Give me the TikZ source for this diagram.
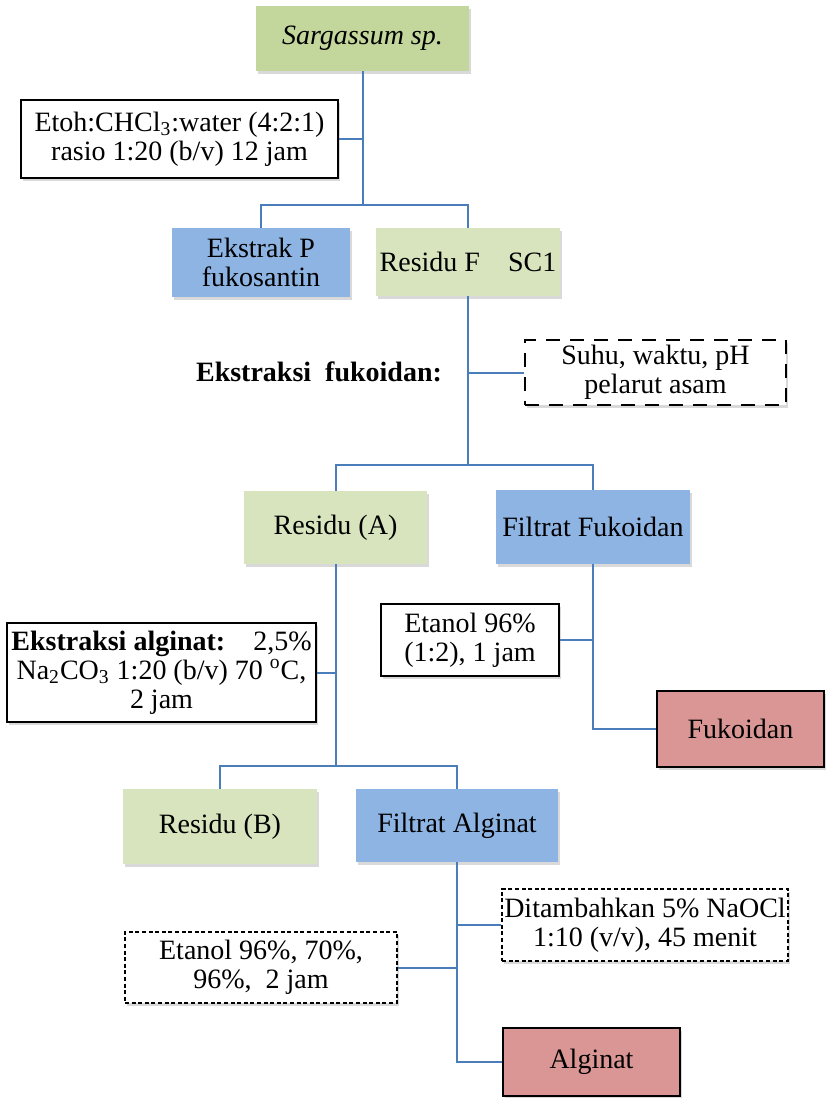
\documentclass[tikz,border=0pt]{standalone}
\usepackage{fontspec}
\setmainfont{Liberation Serif}
\usetikzlibrary{shadows}

\definecolor{leafgreen}{HTML}{C3D69B}
\definecolor{palegreen}{HTML}{D7E4BD}
\definecolor{skyblue}{HTML}{8EB4E3}
\definecolor{rosered}{HTML}{D99694}
\definecolor{linkblue}{HTML}{4A7EBB}

\begin{document}
\begin{tikzpicture}[x=0.5pt, y=-0.5pt,
    box/.style={align=center, inner sep=1pt, font=\fontsize{14}{14.5}\selectfont,
      drop shadow={shadow xshift=1.2pt, shadow yshift=-1.5pt, opacity=0.3}},
    greenbox/.style={box, fill=leafgreen},
    palebox/.style={box, fill=palegreen},
    bluebox/.style={box, fill=skyblue},
    redbox/.style={box, fill=rosered, draw=black, line width=0.9pt},
    notebox/.style={box, fill=white, draw=black, line width=0.9pt},
    thickdash/.style={box, fill=white, draw=black, line width=1.4pt, dash pattern=on 7pt off 5pt},
    thindash/.style={box, fill=white, draw=black, line width=0.6pt, dash pattern=on 2pt off 1.3pt},
    link/.style={draw=linkblue, line width=1pt}]

  \useasboundingbox (0,0) rectangle (827,1098);

  % Nodes
  \node[greenbox, minimum width=106.5pt, minimum height=32.5pt] (sarg) at (362.5,38.5) {\textit{Sargassum sp.}};
  \node[notebox, minimum width=158.5pt, minimum height=39pt] (etoh) at (179.5,139) {Etoh:CHCl\textsubscript{3}:water (4:2:1)\\rasio 1:20 (b/v) 12 jam};
  \node[bluebox, minimum width=89pt, minimum height=34.5pt] (ekstrak) at (261,262.5) {Ekstrak P\\fukosantin};
  \node[palebox, minimum width=92pt, minimum height=34pt] (resf) at (468,262) {Residu F\quad SC1};
  \node[anchor=east, font=\fontsize{14}{14.5}\selectfont\bfseries] (ekfuk) at (449,372) {Ekstraksi\ \ fukoidan:};
  \node[thickdash, minimum width=130.5pt, minimum height=32.5pt] (suhu) at (655.5,372.5) {Suhu, waktu, pH\\pelarut asam};
  \node[palebox, minimum width=91.5pt, minimum height=36.5pt] (resa) at (335.5,527.5) {Residu (A)};
  \node[bluebox, minimum width=97pt, minimum height=37pt] (filfuk) at (593,527) {Filtrat Fukoidan};
  \node[notebox, minimum width=154.5pt, minimum height=49.5pt] (ekalg) at (161.5,672.5) {\textbf{Ekstraksi alginat:}\quad 2,5\%\\Na\textsubscript{2}CO\textsubscript{3} 1:20 (b/v) 70 \textsuperscript{o}C,\\2 jam};
  \node[notebox, minimum width=89pt, minimum height=36pt] (etfuk) at (470,640) {Etanol 96\%\\(1:2), 1 jam};
  \node[redbox, minimum width=83.5pt, minimum height=38pt] (fukoidan) at (740.5,729) {Fukoidan};
  \node[palebox, minimum width=97pt, minimum height=37.5pt] (resb) at (220,826.5) {Residu (B)};
  \node[bluebox, minimum width=101pt, minimum height=36.5pt] (filalg) at (457,825.5) {Filtrat Alginat};
  \node[thindash, inner sep=0pt, minimum width=143pt, minimum height=36pt] (nacl) at (645,925) {Ditambahkan 5\% NaOCl\\1:10 (v/v), 45 menit};
  \node[thindash, minimum width=136pt, minimum height=35.5pt] (etalg) at (261,967.5) {Etanol 96\%, 70\%,\\96\%,\ \ 2 jam};
  \node[redbox, minimum width=88.5pt, minimum height=34pt] (alginat) at (591.5,1062) {Alginat};

  \coordinate (j1) at (362.5,205);
  \coordinate (j2) at (468,465);
  \coordinate (j3) at (335.5,766);

  % Edges
  \draw[link] (sarg) -- (j1);
  \draw[link] (etoh) -- (etoh -| j1);
  \draw[link] (ekstrak) |- (j1) -| (resf);
  \draw[link] (resf) -- (j2);
  \draw[link] (suhu) -- (suhu -| j2);
  \draw[link] (resa) |- (j2) -| (filfuk);
  \draw[link] (resa) -- (j3);
  \draw[link] (ekalg) -- (ekalg -| j3);
  \draw[link] (resb) |- (j3) -| (filalg);
  \draw[link] (filfuk) |- (fukoidan);
  \draw[link] (etfuk) -- (etfuk -| filfuk);
  \draw[link] (filalg) |- (alginat);
  \draw[link] (nacl) -- (nacl -| filalg);
  \draw[link] (etalg) -- (etalg -| filalg);

\end{tikzpicture}
\end{document}
